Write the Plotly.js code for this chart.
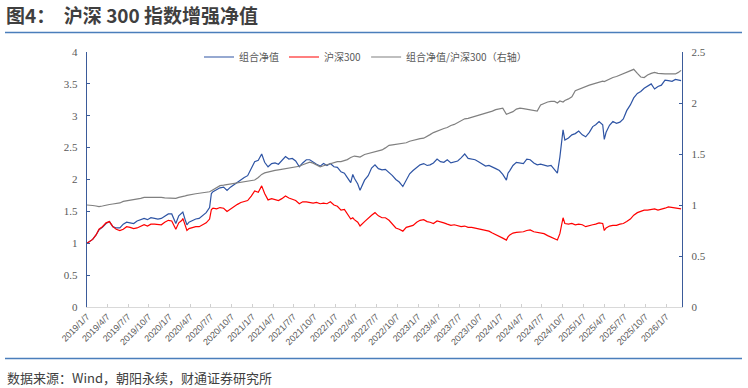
<!DOCTYPE html>
<html>
<head>
<meta charset="utf-8">
<script src="https://cdn.plot.ly/plotly-3.0.1.min.js"></script>
<style>
html,body{margin:0;padding:0;background:#fff;}
#chart{width:748px;height:388px;}
</style>
</head>
<body>
<div id="chart"></div>
<script>
// ---- data ----
const dates = [
"2019-01-07","2019-01-16","2019-02-01","2019-02-16","2019-03-01","2019-03-16","2019-04-01","2019-04-16","2019-05-01","2019-05-16","2019-06-01","2019-06-16","2019-07-01","2019-07-16","2019-08-01","2019-08-16","2019-09-01","2019-09-16","2019-10-01","2019-10-16","2019-11-01","2019-11-16","2019-12-01","2019-12-16",
"2020-01-01","2020-01-16","2020-01-23","2020-02-03","2020-02-16","2020-03-01","2020-03-05","2020-03-16","2020-03-23","2020-04-01","2020-04-16","2020-05-01","2020-05-16","2020-06-01","2020-06-16","2020-07-01","2020-07-09","2020-07-16","2020-08-01","2020-08-16","2020-09-01","2020-09-16","2020-10-01","2020-10-16","2020-11-01","2020-11-16","2020-12-01","2020-12-16",
"2021-01-01","2021-01-16","2021-02-01","2021-02-16","2021-03-01","2021-03-16","2021-04-01","2021-04-16","2021-05-01","2021-05-16","2021-06-01","2021-06-16","2021-07-01","2021-07-16","2021-08-01","2021-08-16","2021-09-01","2021-09-16","2021-10-01","2021-10-16","2021-11-01","2021-11-16","2021-12-01","2021-12-16",
"2022-01-01","2022-01-16","2022-02-01","2022-02-16","2022-03-01","2022-03-16","2022-03-25","2022-04-01","2022-04-16","2022-04-26","2022-05-16","2022-06-01","2022-06-16","2022-07-01","2022-07-16","2022-08-01","2022-08-16","2022-09-01","2022-09-16","2022-10-01","2022-10-16","2022-11-01","2022-11-16","2022-12-01","2022-12-16",
"2023-01-01","2023-01-16","2023-02-01","2023-02-16","2023-03-01","2023-03-16","2023-04-01","2023-04-16","2023-05-01","2023-05-16","2023-06-01","2023-06-16","2023-07-01","2023-07-16","2023-08-01","2023-08-16","2023-09-01","2023-09-16","2023-10-01","2023-10-16","2023-11-01","2023-11-16","2023-12-01","2023-12-16",
"2024-01-01","2024-01-16","2024-02-01","2024-02-08","2024-02-16","2024-03-01","2024-03-16","2024-04-01","2024-04-16","2024-05-01","2024-05-16","2024-06-01","2024-06-16","2024-07-01","2024-07-16","2024-08-01","2024-08-16","2024-09-01","2024-09-13","2024-09-24","2024-10-08","2024-10-16","2024-11-01","2024-11-16","2024-12-01","2024-12-16",
"2025-01-01","2025-01-16","2025-02-01","2025-02-16","2025-03-01","2025-03-16","2025-04-01","2025-04-08","2025-04-16","2025-05-01","2025-05-16","2025-06-01","2025-06-16","2025-07-01","2025-07-16","2025-08-01","2025-08-16","2025-09-01","2025-09-16","2025-10-01","2025-10-16","2025-11-01","2025-11-16","2025-12-01","2025-12-16",
"2026-01-01","2026-01-16","2026-02-01","2026-02-16","2026-03-01","2026-03-13"
];

// 组合净值 (left axis)
const nav = [
1.00,1.02,1.06,1.13,1.21,1.25,1.31,1.34,1.26,1.24,1.24,1.30,1.33,1.32,1.31,1.35,1.37,1.39,1.37,1.40,1.39,1.38,1.39,1.42,
1.46,1.46,1.40,1.31,1.43,1.47,1.49,1.36,1.29,1.33,1.36,1.38,1.39,1.43,1.48,1.56,1.78,1.81,1.84,1.87,1.88,1.83,1.88,1.92,1.96,2.00,2.03,2.06,
2.18,2.28,2.30,2.40,2.27,2.20,2.25,2.26,2.24,2.30,2.36,2.32,2.33,2.29,2.20,2.26,2.31,2.31,2.27,2.24,2.21,2.25,2.22,2.25,
2.20,2.19,2.12,2.10,2.03,1.95,2.08,2.02,1.93,1.83,1.99,2.06,2.18,2.23,2.17,2.15,2.16,2.11,2.06,2.00,1.96,1.89,1.99,2.09,2.14,
2.19,2.23,2.25,2.22,2.23,2.26,2.32,2.28,2.27,2.31,2.26,2.28,2.29,2.34,2.40,2.33,2.32,2.31,2.28,2.25,2.21,2.22,2.20,2.17,
2.14,2.08,1.99,2.10,2.14,2.22,2.27,2.26,2.25,2.32,2.31,2.26,2.23,2.24,2.23,2.21,2.22,2.16,2.10,2.35,2.78,2.62,2.65,2.70,2.72,2.76,
2.70,2.67,2.74,2.83,2.86,2.91,2.86,2.63,2.74,2.85,2.91,2.88,2.90,2.95,3.08,3.17,3.28,3.35,3.38,3.43,3.46,3.50,3.42,3.46,3.48,
3.56,3.55,3.54,3.57,3.56,3.55
];

// 沪深300 (left axis)
const hs300 = [
1.00,1.02,1.06,1.13,1.22,1.26,1.32,1.34,1.26,1.22,1.20,1.22,1.26,1.25,1.23,1.24,1.26,1.29,1.27,1.30,1.30,1.29,1.29,1.33,
1.36,1.35,1.30,1.22,1.32,1.36,1.39,1.27,1.20,1.23,1.25,1.26,1.26,1.29,1.32,1.38,1.53,1.55,1.54,1.56,1.55,1.50,1.54,1.58,1.61,1.64,1.66,1.67,
1.74,1.82,1.80,1.90,1.78,1.68,1.70,1.69,1.67,1.70,1.74,1.71,1.69,1.67,1.62,1.65,1.65,1.64,1.63,1.64,1.62,1.63,1.62,1.65,
1.60,1.58,1.52,1.53,1.46,1.38,1.40,1.37,1.33,1.27,1.34,1.40,1.44,1.48,1.43,1.40,1.40,1.36,1.30,1.24,1.22,1.19,1.25,1.27,1.28,
1.33,1.36,1.37,1.34,1.33,1.31,1.35,1.34,1.32,1.30,1.28,1.29,1.27,1.26,1.27,1.25,1.25,1.24,1.23,1.22,1.20,1.19,1.16,1.13,
1.11,1.08,1.05,1.10,1.13,1.16,1.17,1.17,1.18,1.20,1.21,1.18,1.17,1.15,1.15,1.12,1.10,1.07,1.05,1.15,1.40,1.31,1.30,1.31,1.29,1.30,
1.29,1.26,1.27,1.29,1.30,1.32,1.31,1.20,1.24,1.27,1.28,1.28,1.30,1.31,1.34,1.38,1.44,1.48,1.50,1.52,1.52,1.53,1.54,1.52,1.53,
1.55,1.57,1.56,1.55,1.54,1.54
];

// 组合净值/沪深300 (right axis)
const ratio = [
1.00,1.00,0.995,0.99,0.985,0.99,1.00,1.005,1.01,1.015,1.02,1.035,1.04,1.045,1.05,1.06,1.065,1.075,1.075,1.08,1.08,1.075,1.075,1.07,
1.07,1.07,1.07,1.065,1.075,1.08,1.08,1.09,1.095,1.10,1.105,1.11,1.115,1.12,1.125,1.13,1.14,1.15,1.17,1.19,1.195,1.20,1.21,1.21,1.215,1.225,1.225,1.23,
1.24,1.245,1.27,1.30,1.315,1.325,1.335,1.34,1.345,1.35,1.355,1.36,1.37,1.375,1.38,1.395,1.41,1.42,1.41,1.39,1.375,1.385,1.395,1.41,
1.42,1.425,1.425,1.435,1.445,1.465,1.475,1.48,1.475,1.47,1.495,1.505,1.515,1.52,1.53,1.54,1.56,1.585,1.59,1.595,1.60,1.605,1.61,1.625,1.635,
1.645,1.65,1.655,1.67,1.69,1.71,1.725,1.74,1.75,1.76,1.78,1.79,1.81,1.83,1.845,1.85,1.86,1.865,1.875,1.89,1.90,1.91,1.92,1.935,
1.945,1.95,1.89,1.895,1.90,1.915,1.94,1.95,1.945,1.94,1.935,1.925,1.92,1.98,1.995,2.01,2.015,2.015,2.00,2.02,2.01,2.025,2.04,2.06,2.12,2.135,
2.145,2.16,2.175,2.185,2.195,2.21,2.215,2.21,2.22,2.235,2.25,2.26,2.275,2.285,2.305,2.32,2.33,2.29,2.255,2.25,2.275,2.29,2.30,2.29,2.285,
2.285,2.285,2.285,2.285,2.30,2.32
];

const seriesNames = ["组合净值", "沪深300", "组合净值/沪深300（右轴）"];

const xTickVals = [
"2019-01-07","2019-04-07","2019-07-07","2019-10-07","2020-01-07","2020-04-07","2020-07-07","2020-10-07",
"2021-01-07","2021-04-07","2021-07-07","2021-10-07","2022-01-07","2022-04-07","2022-07-07","2022-10-07",
"2023-01-07","2023-04-07","2023-07-07","2023-10-07","2024-01-07","2024-04-07","2024-07-07","2024-10-07",
"2025-01-07","2025-04-07","2025-07-07","2025-10-07","2026-01-07"
];
const xTickText = [
"2019/1/7","2019/4/7","2019/7/7","2019/10/7","2020/1/7","2020/4/7","2020/7/7","2020/10/7",
"2021/1/7","2021/4/7","2021/7/7","2021/10/7","2022/1/7","2022/4/7","2022/7/7","2022/10/7",
"2023/1/7","2023/4/7","2023/7/7","2023/10/7","2024/1/7","2024/4/7","2024/7/7","2024/10/7",
"2025/1/7","2025/4/7","2025/7/7","2025/10/7","2026/1/7"
];
const leftTicks = [0,0.5,1,1.5,2,2.5,3,3.5,4];
const leftTickText = ["0","0.5","1","1.5","2","2.5","3","3.5","4"];
const rightTicks = [0,0.5,1,1.5,2,2.5];
const rightTickText = ["0","0.5","1","1.5","2","2.5"];

const titleText = "图4：  沪深 300 指数增强净值";
const sourceText = "数据来源：Wind，朝阳永续，财通证券研究所";

// ---- layout geometry (pixels) ----
const W = 748, H = 388;
const L = 87, R = 66, T = 52, B = 81;
const pw = W - L - R, ph = H - T - B;
const px = x => (x - L) / pw;
const py = y => (H - B - y) / ph;

const cjk = '"Noto Sans CJK SC", "Noto Sans", sans-serif';
const serif = '"Liberation Serif", "DejaVu Serif", serif';
const axisBlue = '#3b5b9a';

const traces = [
  {x: dates, y: nav, name: seriesNames[0], type: 'scatter', mode: 'lines',
   line: {color: '#2e54a4', width: 1.2}, yaxis: 'y'},
  {x: dates, y: hs300, name: seriesNames[1], type: 'scatter', mode: 'lines',
   line: {color: '#ff0000', width: 1.2}, yaxis: 'y'},
  {x: dates, y: ratio, name: seriesNames[2], type: 'scatter', mode: 'lines',
   line: {color: '#808080', width: 1.2}, yaxis: 'y2'}
];

const layout = {
  width: W, height: H,
  margin: {l: L, r: R, t: T, b: B, pad: 0},
  paper_bgcolor: '#ffffff', plot_bgcolor: '#ffffff',
  showlegend: true,
  legend: {
    orientation: 'h', x: px(199), xanchor: 'left', y: py(57), yanchor: 'middle',
    font: {family: cjk, size: 10, color: '#595959'}, bgcolor: 'rgba(0,0,0,0)',
    itemwidth: 30, tracegroupgap: 0
  },
  title: {
    text: titleText, xref: 'container', yref: 'container',
    x: 6 / W, xanchor: 'left', y: 1 - 16 / H, yanchor: 'middle',
    font: {family: cjk, size: 19, color: '#3f3f3f', weight: 'bold'}
  },
  xaxis: {
    type: 'date', range: ['2019-01-07', '2026-03-17'],
    tickmode: 'array', tickvals: xTickVals, ticktext: xTickText,
    tickangle: -45, tickfont: {family: '"Liberation Sans", Arial, sans-serif', size: 9, color: '#595959'},
    ticks: 'inside', ticklen: 3, tickcolor: '#d0d0d0', tickwidth: 1,
    showline: true, linecolor: '#d9d9d9', linewidth: 1,
    showgrid: false, zeroline: false, fixedrange: true
  },
  yaxis: {
    range: [0, 4], tickmode: 'array', tickvals: leftTicks, ticktext: leftTickText,
    tickfont: {family: serif, size: 11, color: '#595959'},
    ticks: 'inside', ticklen: 3, tickcolor: axisBlue, tickwidth: 1,
    showline: true, linecolor: axisBlue, linewidth: 1.3,
    showgrid: false, zeroline: false, ticklabelstandoff: 6
  },
  yaxis2: {
    range: [0, 2.5], overlaying: 'y', side: 'right',
    tickmode: 'array', tickvals: rightTicks, ticktext: rightTickText,
    tickfont: {family: serif, size: 11, color: '#595959'},
    ticks: 'inside', ticklen: 3, tickcolor: axisBlue, tickwidth: 1,
    showline: true, linecolor: axisBlue, linewidth: 1.3,
    showgrid: false, zeroline: false, ticklabelstandoff: 6
  },
  shapes: [
    {type: 'line', xref: 'paper', yref: 'paper', x0: px(5), x1: px(742), y0: py(32.5), y1: py(32.5),
     line: {color: '#4a7ebb', width: 1.5}},
    {type: 'line', xref: 'paper', yref: 'paper', x0: px(5), x1: px(742), y0: py(358.5), y1: py(358.5),
     line: {color: '#4a7ebb', width: 1.5}}
  ],
  annotations: [
    {text: sourceText, xref: 'paper', yref: 'paper', x: px(5), y: py(377),
     xanchor: 'left', yanchor: 'middle', showarrow: false,
     font: {family: cjk, size: 13, color: '#404040'}}
  ]
};

Plotly.newPlot('chart', traces, layout, {displayModeBar: false, staticPlot: true});
</script>
</body>
</html>
